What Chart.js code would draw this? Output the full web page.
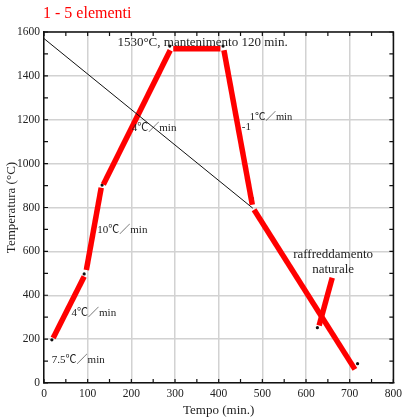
<!DOCTYPE html>
<html>
<head>
<meta charset="utf-8">
<script src="https://cdn.jsdelivr.net/npm/chart.js@4.4.1/dist/chart.umd.min.js"></script>
<style>
  html, body { margin: 0; padding: 0; background: #fff; }
  #wrap { width: 406px; height: 418px; position: relative; }
</style>
</head>
<body>
<div id="wrap"><canvas id="tempChart"></canvas></div>
<script>
// heating / cooling path, drawn as separate red strokes
var segStartX = [21, 97, 136, 296, 412, 481];
var segStartY = [205, 515, 905, 1524, 1517, 790];
var segEndX = [92, 131, 289, 404, 477, 712];
var segEndY = [485, 890, 1517, 1524, 812, 62];
// thin black reference line
var refLineX = [0, 478];
var refLineY = [1570, 797];
// pointer to "raffreddamento naturale"
var arrowX = [660, 630];
var arrowY = [480, 262];
// small black markers at the joints
var dotX = [18, 92, 133, 288, 410, 477, 626, 718];
var dotY = [197, 497, 902, 1536, 1536, 842, 252, 88];
// axis ranges
var xRange = [0, 800];
var yRange = [0, 1600];

var SERIF = '"Liberation Serif", "Noto Sans CJK JP", serif';

function pts(xs, ys) {
    var out = [];
    for (var i = 0; i < xs.length; i++) out.push({x: xs[i], y: ys[i]});
    return out;
}

var datasets = [];
datasets.push({
    data: pts(refLineX, refLineY),
    showLine: true, borderColor: "#111", borderWidth: 1, pointRadius: 0
});
for (var i = 0; i < segStartX.length; i++) {
    datasets.push({
        data: pts([segStartX[i], segEndX[i]], [segStartY[i], segEndY[i]]),
        showLine: true, borderColor: "#ff0000", borderWidth: 5.5, pointRadius: 0
    });
}
datasets.push({
    data: pts(arrowX, arrowY),
    showLine: true, borderColor: "#ff0000", borderWidth: 5.5, pointRadius: 0
});
datasets.push({
    data: pts(dotX, dotY),
    showLine: false, pointRadius: 1.6, pointBackgroundColor: "#111",
    pointBorderWidth: 0
});

// text labels placed in data units
var notes = [
    {t: "1530°C, mantenimento 120 min.", x: 363, y: 1553, size: 13, align: "center"},
    {t: "4℃／min", x: 201, y: 1161, size: 11, align: "left"},
    {t: "1℃／min", x: 471, y: 1211, size: 10.5, align: "left"},
    {t: "-1", x: 453, y: 1166, size: 11, align: "left"},
    {t: "10℃／min", x: 122, y: 697, size: 11, align: "left"},
    {t: "4℃／min", x: 63, y: 320, size: 11, align: "left"},
    {t: "7.5℃／min", x: 18, y: 106, size: 11, align: "left"},
    {t: "raffreddamento", x: 662, y: 584, size: 13, align: "center"},
    {t: "naturale", x: 662, y: 516, size: 13, align: "center"}
];

var extras = {
    id: "extras",
    afterDatasetsDraw: function(chart) {
        var ctx = chart.ctx, a = chart.chartArea;
        var xs = chart.scales.x, ys = chart.scales.y;
        ctx.save();
        // top and right frame
        ctx.strokeStyle = "#111";
        ctx.lineWidth = 1.5;
        ctx.beginPath();
        ctx.moveTo(a.left, a.top); ctx.lineTo(a.right, a.top); ctx.lineTo(a.right, a.bottom);
        ctx.stroke();
        // inward ticks on all four sides
        ctx.lineWidth = 1.2;
        ctx.beginPath();
        for (var v = xRange[0]; v <= xRange[1]; v += 50) {
            var px = xs.getPixelForValue(v);
            ctx.moveTo(px, a.bottom); ctx.lineTo(px, a.bottom - 4);
            ctx.moveTo(px, a.top); ctx.lineTo(px, a.top + 4);
        }
        for (var w = yRange[0]; w <= yRange[1]; w += 100) {
            var py = ys.getPixelForValue(w);
            ctx.moveTo(a.left, py); ctx.lineTo(a.left + 4, py);
            ctx.moveTo(a.right, py); ctx.lineTo(a.right - 4, py);
        }
        ctx.stroke();
        // notes
        ctx.fillStyle = "#222";
        ctx.textBaseline = "middle";
        notes.forEach(function(n) {
            ctx.font = n.size + "px " + SERIF;
            ctx.textAlign = n.align;
            ctx.fillText(n.t, xs.getPixelForValue(n.x), ys.getPixelForValue(n.y));
        });
        // heading
        ctx.fillStyle = "#ff0000";
        ctx.font = "16px " + SERIF;
        ctx.textAlign = "left";
        ctx.fillText("1 - 5 elementi", 43, 14);
        ctx.restore();
    }
};

function plain(v) { return String(v); }

var ctx = document.getElementById("tempChart").getContext("2d");
new Chart(ctx, {
    type: "scatter",
    data: {datasets: datasets},
    options: {
        responsive: true,
        maintainAspectRatio: false,
        animation: false,
        layout: {padding: {left: 0, right: 7, top: 32, bottom: 0}},
        plugins: {legend: {display: false}, tooltip: {enabled: false}},
        scales: {
            x: {
                type: "linear", min: xRange[0], max: xRange[1],
                afterFit: function(s) { s.height = 35; },
                grid: {color: "#d2d2d2", lineWidth: 1.5, drawTicks: false},
                border: {color: "#111", width: 1.5},
                ticks: {stepSize: 100, padding: 4, color: "#222", callback: plain,
                        font: {family: SERIF, size: 11.5}},
                title: {display: true, text: "Tempo (min.)", color: "#222",
                        font: {family: SERIF, size: 13}, padding: 0}
            },
            y: {
                type: "linear", min: yRange[0], max: yRange[1],
                afterFit: function(s) { s.width = 44; },
                grid: {color: "#d2d2d2", lineWidth: 1.5, drawTicks: false},
                border: {color: "#111", width: 1.5},
                ticks: {stepSize: 200, padding: 4, color: "#222", callback: plain,
                        font: {family: SERIF, size: 11.5}},
                title: {display: true, text: "Temperatura (°C)", color: "#222",
                        font: {family: SERIF, size: 13}, padding: {top: 4, bottom: 0}}
            }
        }
    },
    plugins: [extras]
});
</script>
</body>
</html>
